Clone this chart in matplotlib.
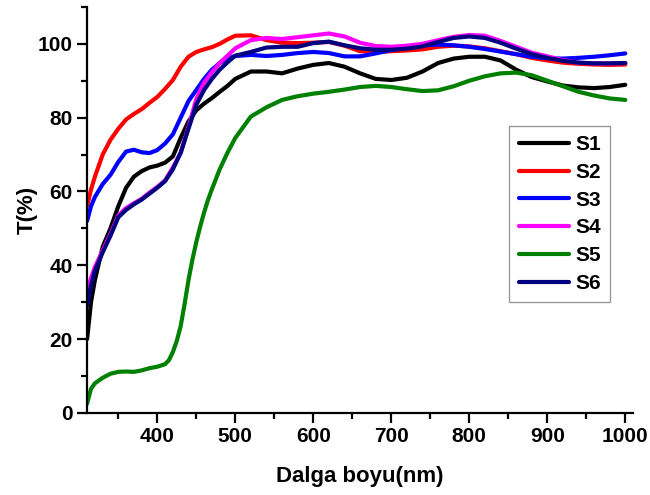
import matplotlib
matplotlib.use("Agg")
import matplotlib.pyplot as plt
from matplotlib.ticker import MultipleLocator

plt.rcParams['font.family'] = ['Liberation Sans', 'DejaVu Sans']
plt.rcParams['font.weight'] = 'bold'

wavelength = [310, 315, 320, 330, 340, 350, 360, 370, 380, 390, 400, 410, 420, 430, 440,
              450, 460, 470, 480, 490, 500, 520, 540, 560, 580, 600, 620, 640, 660, 680,
              700, 720, 740, 760, 780, 800, 820, 840, 860, 880, 900, 920, 940, 960, 980, 1000]

s1 = [20, 30, 36, 45, 50, 56, 61, 64, 65.5, 66.5, 67, 67.8, 69.5, 74.5, 79, 82, 83.8, 85.3,
      87, 88.6, 90.5, 92.5, 92.5, 92, 93.3, 94.3, 94.8, 93.8, 92, 90.5, 90.2, 90.8, 92.5,
      94.8, 96, 96.5, 96.5, 95.5, 93, 91, 89.8, 88.7, 88.2, 88, 88.3, 88.9]
s2 = [56, 60.5, 64, 70, 74, 77, 79.5, 81, 82.3, 84, 85.6, 87.8, 90.2, 93.8, 96.5, 97.8, 98.5,
      99.1, 100, 101.2, 102.2, 102.3, 101, 100.3, 100.2, 100.3, 100.5, 99.5, 98, 97.8, 98,
      98.2, 98.5, 99.2, 99.5, 99.3, 98.8, 98, 97.2, 96.2, 95.5, 94.9, 94.6, 94.4, 94.3, 94.4]
s3 = [52, 56, 58.5, 62, 64.5, 68, 70.8, 71.3, 70.6, 70.4, 71.2, 73, 75.5, 80, 84.5, 87.5, 90.5,
      93, 94.8, 96, 96.7, 97, 96.7, 97, 97.5, 97.8, 97.5, 96.6, 96.6, 97.4, 98.3, 99, 99.6,
      99.8, 99.6, 99.2, 98.6, 97.9, 97.2, 96.5, 96.1, 96, 96.2, 96.5, 96.9, 97.4]
s4 = [33, 36.5, 39.5, 44, 48.5, 53.5, 55.5, 56.8, 58, 59.7, 61.2, 63, 66.5, 70.5, 77.5, 85,
      89.5, 92.3, 94.8, 96.8, 98.8, 101, 101.6, 101.3, 101.8, 102.3, 102.8, 102, 100.3, 99.4,
      99.2, 99.5, 100, 101, 101.9, 102.4, 102.2, 100.8, 99.2, 97.6, 96.6, 95.6, 94.9, 94.7,
      94.7, 94.8]
s6 = [29, 34.5, 38.5, 43.5, 48, 53, 55, 56.5, 57.8, 59.4, 61, 62.8, 66, 70.5, 77, 83.5, 87.5,
      90.5, 93, 95, 96.8, 97.8, 99, 99.2, 99.2, 100.2, 100.6, 99.6, 98.8, 98.4, 98.4, 98.7,
      99.3, 100.5, 101.6, 102, 101.6, 100.3, 98.7, 97.2, 96.2, 95.4, 94.9, 94.7, 94.7, 94.8]

wavelength_s5 = [310, 315, 320, 330, 340, 350, 360, 370, 380, 390, 400, 410, 415, 420, 425,
                 430, 435, 440, 445, 450, 455, 460, 465, 470, 480, 490, 500, 520, 540, 560,
                 580, 600, 620, 640, 660, 680, 700, 720, 740, 760, 780, 800, 820, 840, 860,
                 880, 900, 920, 940, 960, 980, 1000]
s5 = [2.5, 6.5, 8, 9.5, 10.6, 11.1, 11.2, 11.1, 11.5, 12.1, 12.5, 13.2, 14.3, 16.5, 19.5,
      23.5, 29.5, 36, 41.5, 46.3, 50.5, 54.3, 57.7, 60.6, 66, 70.5, 74.5, 80.3, 82.8, 84.8,
      85.8, 86.5, 87, 87.6, 88.3, 88.6, 88.3, 87.7, 87.2, 87.4, 88.5, 90, 91.2, 92, 92.2,
      91.5, 90, 88.5, 87, 86, 85.2, 84.8]

labels = ['S1', 'S2', 'S3', 'S4', 'S5', 'S6']
colors = ['#000000', '#FF0000', '#0000FF', '#FF00FF', '#008000', '#000080']
xs = [wavelength, wavelength, wavelength, wavelength, wavelength_s5, wavelength]
series = [s1, s2, s3, s4, s5, s6]

fig = plt.figure(figsize=(6.5, 4.95), dpi=100)
ax = fig.add_axes([0.134, 0.166, 0.84, 0.82])

for x, ys, c, lab in zip(xs, series, colors, labels):
    ax.plot(x, ys, color=c, lw=3, label=lab, solid_capstyle='round', solid_joinstyle='round')

ax.set_xlim(310, 1010)
ax.set_ylim(0, 110)
ax.xaxis.set_major_locator(MultipleLocator(100))
ax.xaxis.set_minor_locator(MultipleLocator(50))
ax.yaxis.set_major_locator(MultipleLocator(20))
ax.yaxis.set_minor_locator(MultipleLocator(10))
ax.spines['top'].set_visible(False)
ax.spines['right'].set_visible(False)
for s in ['left', 'bottom']:
    ax.spines[s].set_linewidth(1.6)
ax.tick_params(which='major', direction='out', length=7, width=1.6, labelsize=15)
ax.tick_params(which='minor', direction='out', length=4, width=1.6)
for lbl in ax.get_xticklabels() + ax.get_yticklabels():
    lbl.set_fontweight('bold')

ax.set_xlabel('Dalga boyu(nm)', fontsize=16, fontweight='bold', labelpad=14)
ax.set_ylabel('T(%)', fontsize=16, fontweight='bold', labelpad=0)

leg = ax.legend(loc='upper right', bbox_to_anchor=(0.958, 0.707), borderaxespad=0,
                fontsize=15, frameon=True, fancybox=False, edgecolor='#808080',
                handlelength=2.4, handletextpad=0.3, labelspacing=0.42, borderpad=0.45)
leg.get_frame().set_linewidth(1.0)
for t in leg.get_texts():
    t.set_fontweight('bold')

fig.savefig('out.png', dpi=100)
